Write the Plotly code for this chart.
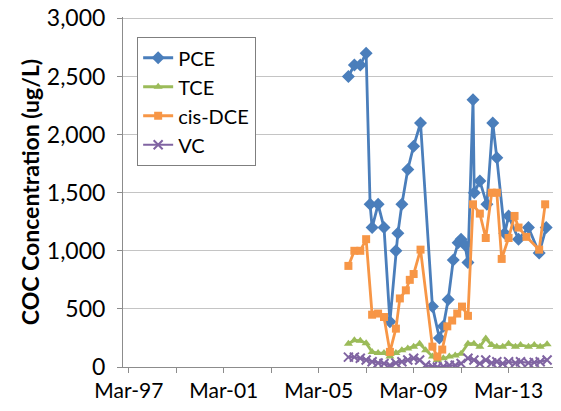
import plotly.graph_objects as go

# ---- data ----
pce_dates = ["2006-06-01", "2006-09-01", "2006-12-01", "2007-03-01", "2007-05-01", "2007-06-01",
             "2007-09-01", "2007-12-01", "2008-03-01", "2008-06-01", "2008-07-01", "2008-09-01",
             "2008-12-01", "2009-03-01", "2009-06-15", "2009-12-15", "2010-04-01", "2010-06-01",
             "2010-08-15", "2010-11-01", "2011-01-15", "2011-03-01", "2011-05-01", "2011-06-15",
             "2011-09-01", "2011-09-20", "2011-12-15", "2012-04-01", "2012-07-01", "2012-09-01",
             "2013-01-01", "2013-03-01", "2013-08-01", "2014-01-01", "2014-06-15", "2014-10-01"]
pce_vals = [2500, 2600, 2600, 2700, 1400, 1200,
            1400, 1200, 390, 1000, 1150, 1400,
            1700, 1900, 2100, 520, 250, 350,
            580, 920, 1070, 1100, 1050, 900,
            2300, 1500, 1600, 1400, 2100, 1800,
            1150, 1300, 1100, 1200, 980, 1200]

dce_dates = ["2006-06-01", "2006-09-01", "2006-12-01", "2007-03-01", "2007-06-01", "2007-09-01",
             "2007-12-01", "2008-03-01", "2008-06-01", "2008-08-01", "2008-11-01", "2009-01-01",
             "2009-03-01", "2009-06-15", "2009-12-15", "2010-03-01", "2010-05-15", "2010-08-01",
             "2010-10-15", "2011-01-01", "2011-03-15", "2011-06-15", "2011-09-01", "2011-12-15",
             "2012-03-15", "2012-06-15", "2012-09-01", "2012-11-15", "2013-03-01", "2013-06-01",
             "2013-08-01", "2013-12-01", "2014-06-15", "2014-09-15"]
dce_vals = [870, 1000, 1000, 1100, 450, 460,
            430, 130, 330, 590, 660, 750,
            800, 1010, 175, 90, 150, 350,
            400, 460, 520, 440, 1400, 1320,
            1110, 1500, 1500, 930, 1110, 1300,
            1200, 1120, 1010, 1400]

tce_dates = ["2006-06-01", "2006-09-01", "2006-12-01", "2007-03-01", "2007-06-01", "2007-09-01",
             "2007-12-01", "2008-03-01", "2008-06-01", "2008-09-01", "2008-12-01", "2009-03-01",
             "2009-06-01", "2009-09-01", "2009-12-15", "2010-03-01", "2010-06-01", "2010-09-01",
             "2010-12-01", "2011-03-01", "2011-06-15", "2011-09-15", "2011-12-15", "2012-03-15",
             "2012-06-15", "2012-09-01", "2012-12-01", "2013-03-01", "2013-06-15", "2013-09-01",
             "2014-01-01", "2014-04-01", "2014-07-01", "2014-10-15"]
tce_vals = [200, 230, 225, 205, 130, 120,
            120, 90, 120, 145, 160, 175,
            200, 145, 90, 60, 75, 90,
            100, 115, 200, 200, 175, 245,
            190, 175, 175, 200, 175, 190,
            175, 190, 175, 195]

vc_dates = tce_dates
vc_vals = [85, 85, 75, 60, 45, 35,
           30, 15, 35, 45, 60, 75,
           60, 15, 5, 0, 5, 15,
           15, 30, 75, 60, 30, 60,
           35, 45, 30, 45, 35, 45,
           35, 40, 45, 60]

tick_dates = ["1997-03-01", "1999-03-01", "2001-03-01", "2003-03-01", "2005-03-01",
              "2007-03-01", "2009-03-01", "2011-03-01", "2013-03-01", "2015-03-01"]
tick_labels = ["Mar-97", "", "Mar-01", "", "Mar-05", "", "Mar-09", "", "Mar-13", ""]
y_ticks = [0, 500, 1000, 1500, 2000, 2500, 3000]

FONT = "Lato"

fig = go.Figure()
fig.add_trace(go.Scatter(x=pce_dates, y=pce_vals, name="PCE", mode="lines+markers",
                         line=dict(color="#4A7EBB", width=2.8),
                         marker=dict(symbol="diamond", size=10, color="#4A7EBB")))
fig.add_trace(go.Scatter(x=tce_dates, y=tce_vals, name="TCE", mode="lines+markers",
                         line=dict(color="#9BBB59", width=2.8),
                         marker=dict(symbol="triangle-up", size=8, color="#9BBB59")))
fig.add_trace(go.Scatter(x=dce_dates, y=dce_vals, name="cis-DCE", mode="lines+markers",
                         line=dict(color="#F79646", width=2.8),
                         marker=dict(symbol="square", size=8, color="#F79646")))
fig.add_trace(go.Scatter(x=vc_dates, y=vc_vals, name="VC", mode="lines+markers",
                         line=dict(color="#8064A2", width=2.2),
                         marker=dict(symbol="x-thin", size=9, color="#8064A2",
                                     line=dict(color="#8064A2", width=2))))

fig.update_layout(
    width=561, height=411,
    margin=dict(l=115, r=13, t=9, b=52),
    paper_bgcolor="white", plot_bgcolor="white",
    font=dict(family=FONT, size=22, color="#000000"),
    showlegend=True,
    legend=dict(x=0.032, y=0.943, xanchor="left", yanchor="top",
                bgcolor="white", bordercolor="#7f7f7f", borderwidth=1.3,
                font=dict(family=FONT, size=20, color="#000000"),
                tracegroupgap=0, itemwidth=30),
    xaxis=dict(type="date", range=["1996-12-01", "2015-03-01"], automargin=False,
               tickmode="array", tickvals=tick_dates, ticktext=tick_labels,
               ticks="outside", ticklen=5, tickcolor="#8c8c8c", tickwidth=1,
               ticklabeloverflow="allow",
               showgrid=False, showline=True, linecolor="#8c8c8c", linewidth=1,
               zeroline=False, tickfont=dict(family=FONT, size=21)),
    yaxis=dict(range=[0, 3012], tickvals=y_ticks,
               automargin=False, ticklabeloverflow="allow", ticklabelstandoff=7,
               tickformat=",", ticks="outside", ticklen=5, tickcolor="#8c8c8c",
               showgrid=True, gridcolor="#c4c4c4", gridwidth=1.3,
               showline=True, linecolor="#8c8c8c", linewidth=1, zeroline=False,
               tickfont=dict(family=FONT, size=23),
               title=dict(text="<b>COC Concentration (ug/L)</b>",
                          font=dict(family=FONT, size=23), standoff=0)),
)

fig.write_html("out.html")
